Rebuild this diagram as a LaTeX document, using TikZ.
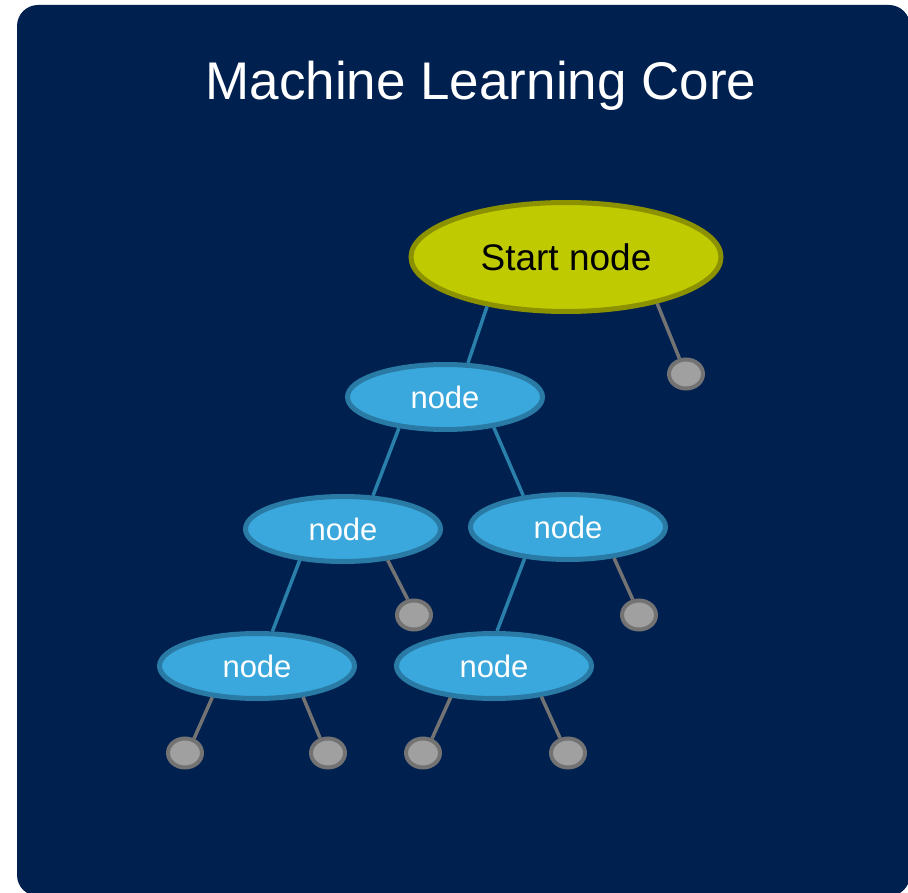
\documentclass[tikz,border=0pt]{standalone}
\usepackage{fontspec}
\setmainfont{Liberation Sans}
\usetikzlibrary{shapes.geometric}
\definecolor{navy}{HTML}{002050}
\definecolor{startfill}{HTML}{BFCA00}
\definecolor{startborder}{HTML}{8C9100}
\definecolor{bluefill}{HTML}{3AA8DC}
\definecolor{blueborder}{HTML}{2A7AA6}
\definecolor{bluelink}{HTML}{2A80AB}
\definecolor{leaffill}{HTML}{A0A0A0}
\definecolor{leafborder}{HTML}{737373}
\tikzset{
  startbox/.style={ellipse, draw=startborder, fill=startfill, line width=5pt, inner sep=0pt,
    minimum width=310pt, minimum height=109pt, font=\fontsize{37}{40}\selectfont, text=black},
  treebox/.style={ellipse, draw=blueborder, fill=bluefill, line width=5pt, inner sep=0pt,
    minimum width=195pt, minimum height=65pt, font=\fontsize{31}{34}\selectfont, text=white},
  leafbox/.style={ellipse, draw=leafborder, fill=leaffill, line width=4pt, inner sep=0pt,
    minimum width=34pt, minimum height=29pt},
  bluelinkstyle/.style={draw=bluelink, line width=3.5pt},
  graylinkstyle/.style={draw=leafborder, line width=3.5pt},
}
\begin{document}
\begin{tikzpicture}[x=1pt,y=-1pt]
\useasboundingbox (0,0) rectangle (908,893);
\clip (0,0) rectangle (908,893);
\fill[navy, rounded corners=21pt] (17,5) rectangle (910,896);
\node[font=\fontsize{53}{60}\selectfont, text=white, anchor=base, inner sep=0pt] (title) at (481,100) {Machine Learning Core};

\node[startbox] (s) at (566,257) {Start node};
\node[treebox] (n1) at (445,397) {node};
\node[treebox] (n2) at (343,529) {node};
\node[treebox] (n3) at (568,527) {node};
\node[treebox] (n4) at (257,666) {node};
\node[treebox] (n5) at (494,666) {node};

\node[leafbox] (la) at (686,374) {};
\node[leafbox] (lb) at (414,615) {};
\node[leafbox] (lc) at (639,615) {};
\node[leafbox] (ld) at (185,753) {};
\node[leafbox] (le) at (328,753) {};
\node[leafbox] (lf) at (423,753) {};
\node[leafbox] (lg) at (568,753) {};

\draw[bluelinkstyle] (s.212.8) -- (n1.56.7);
\draw[graylinkstyle] (s.-27.6) -- (la.113);
\draw[bluelinkstyle] (n1.214.5) -- (n2.48.5);
\draw[bluelinkstyle] (n1.-32.9) -- (n3.145.2);
\draw[bluelinkstyle] (n2.216.7) -- (n4.66);
\draw[graylinkstyle] (n2.-35) -- (lb.112);
\draw[bluelinkstyle] (n3.216.7) -- (n5.85);
\draw[graylinkstyle] (n3.-34) -- (lc.112);
\draw[graylinkstyle] (n4.215.9) -- (ld.58);
\draw[graylinkstyle] (n4.-34) -- (le.118);
\draw[graylinkstyle] (n5.216) -- (lf.58);
\draw[graylinkstyle] (n5.-33.7) -- (lg.118);
\end{tikzpicture}
\end{document}
